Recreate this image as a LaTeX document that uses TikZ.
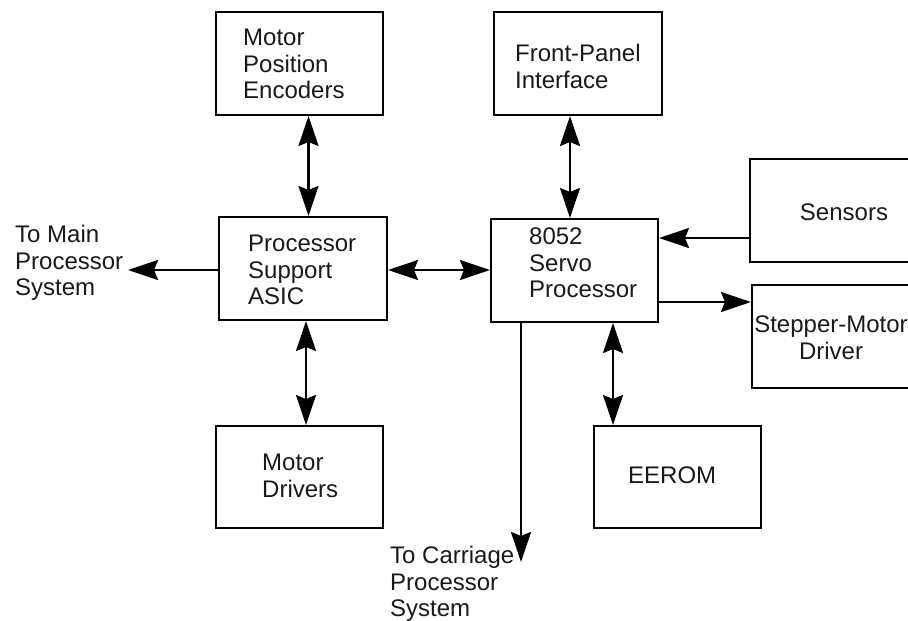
\documentclass[tikz,border=0pt]{standalone}
\usepackage{fontspec}
\setmainfont{Liberation Sans}
\usetikzlibrary{
  arrows.meta,
  positioning
}
\newcommand{\blkfont}{\fontsize{24}{26.5}\selectfont}
\tikzset{
  blk/.style={draw, line width=2pt, minimum width=167pt, minimum height=103pt, inner sep=0pt},
  lbl/.style={anchor=north west, inner sep=0pt, align=left, font=\blkfont, text=black!90},
  head/.tip={Stealth[length=30pt, width=20pt, inset=4pt]},
  conn/.style={line width=2.2pt, -head},
  biconn/.style={line width=2.2pt, head-head}
}

\begin{document}
\begin{tikzpicture}[x=1pt, y=-1pt]
         \useasboundingbox (0,0) rectangle (908,621);
         \clip (0,0) rectangle (908,621);
         \node[blk] (enc) at (299.5, 63.5) {};
         \node[blk, minimum width=168pt] (panel) at (578, 63.5) {};
         \node[blk, minimum width=168pt] (asic) at (303, 268.5) {};
         \node[blk] (servo) at (574.5, 270.5) {};
         \node[blk, minimum width=168pt] (sens) at (834, 210.5) {};
         \node[blk, minimum width=168pt] (step) at (836, 336.5) {};
         \node[blk, minimum height=102pt] (drv) at (299.5, 477) {};
         \node[blk, minimum height=102pt] (eerom) at (677.5, 477) {};
        \node[lbl] (enc-lbl) at (243, 29) {Motor\\Position\\Encoders};
        \node[lbl] (panel-lbl) at (515, 44) {Front-Panel\\Interface};
        \node[lbl] (asic-lbl) at (248, 235) {Processor\\Support\\ASIC};
        \node[lbl] (servo-lbl) at (529, 228) {8052\\Servo\\Processor};
        \node[lbl, anchor=base] (sens-lbl) at (844, 220) {Sensors};
        \node[lbl, anchor=north, align=center] (step-lbl) at (831, 316) {Stepper-Motor\\Driver};
        \node[lbl, anchor=base west] (eerom-lbl) at (628, 483) {EEROM};
        \node[lbl] (drv-lbl) at (262, 454) {Motor\\Drivers};
        \node[lbl] (main-lbl) at (15, 225) {To Main\\Processor\\System};
        \node[lbl] (car-lbl) at (390, 546) {To Carriage\\Processor\\System};
        \coordinate (main-end) at (128, 270);
        \coordinate (car-end) at (521, 562);
	\draw[biconn] ([xshift=9pt]enc.south) -- ([xshift=9pt]enc.south |- asic.north);
	\draw[biconn] ([xshift=3pt]asic.south) -- ([xshift=3pt]asic.south |- drv.north);
	\draw[biconn] ([xshift=-8pt]panel.south) -- ([xshift=-8pt]panel.south |- servo.north);
	\draw[biconn] ([yshift=-1.5pt]asic.east) -- ([yshift=-1.5pt]asic.east -| servo.west);
	\draw[conn] ([yshift=-1.5pt]asic.west) -- (main-end);
	\draw[conn] ([yshift=-27.5pt]sens.west) -- ([yshift=-27.5pt]sens.west -| servo.east);
	\draw[conn] ([yshift=-31.5pt]servo.east) -- ([yshift=-31.5pt]servo.east -| step.west);
	\draw[biconn] ([xshift=38.5pt]servo.south) -- ([xshift=38.5pt]servo.south |- eerom.north);
	\draw[conn] ([xshift=-53.5pt]servo.south) -- (car-end);
\end{tikzpicture}
\end{document}
